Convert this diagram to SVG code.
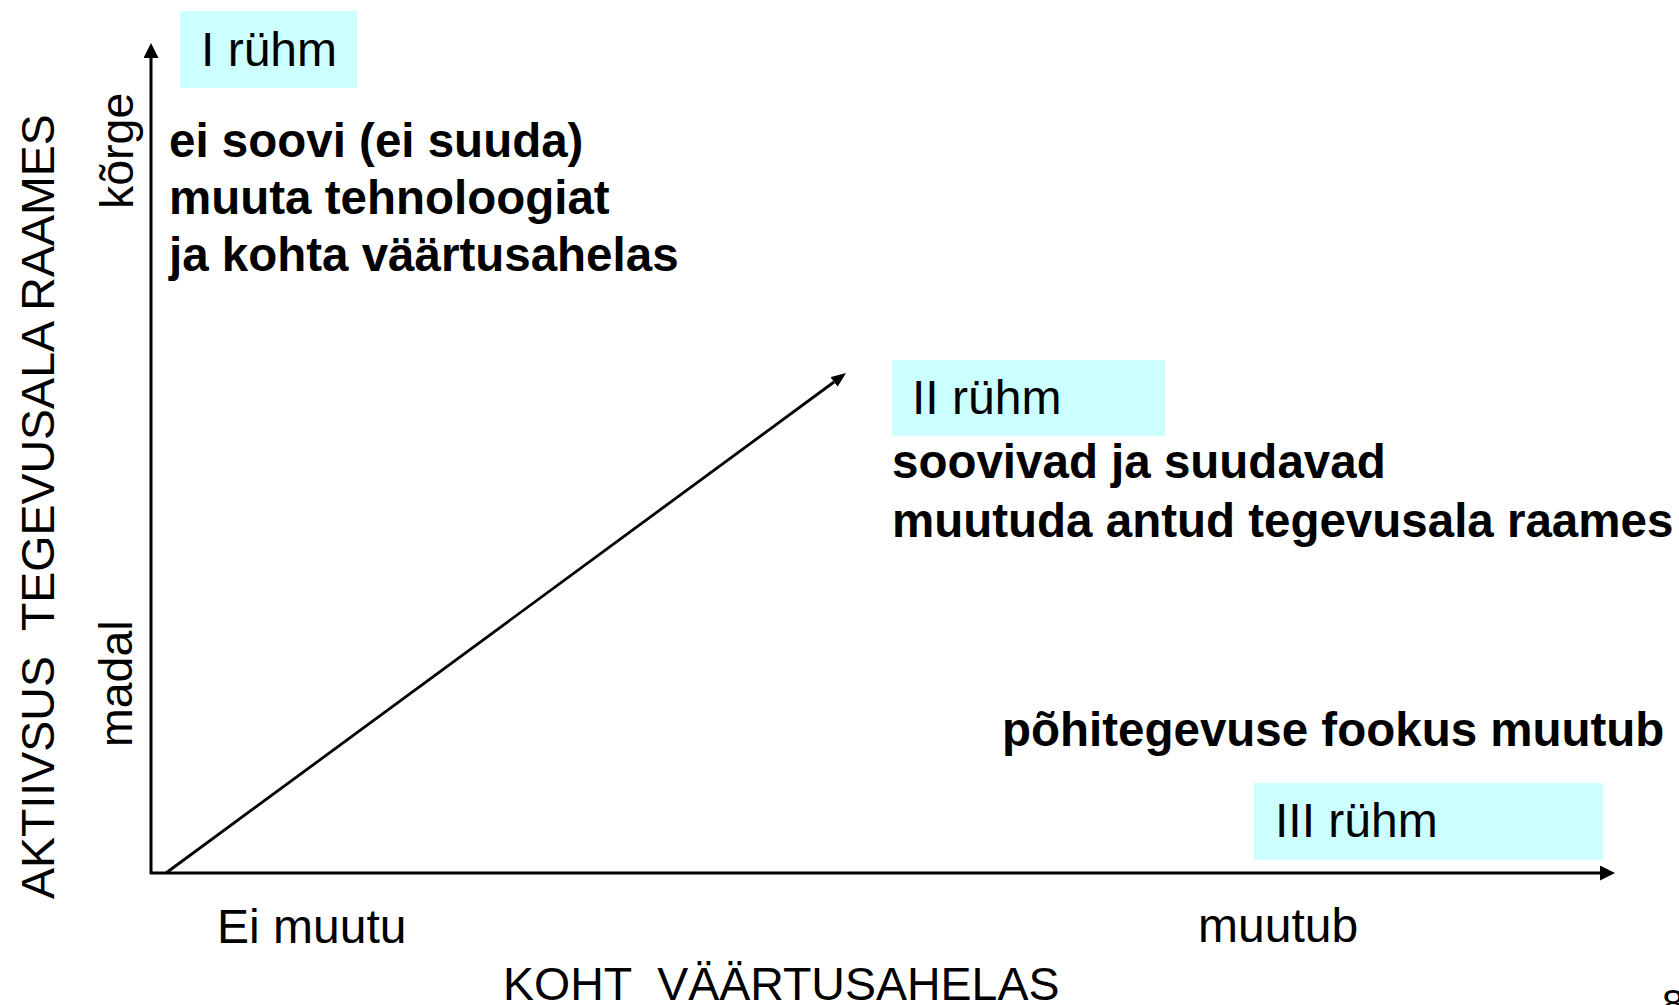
<svg xmlns="http://www.w3.org/2000/svg" width="1679" height="1005" viewBox="0 0 1679 1005">
<style>
text{font-family:"Liberation Sans",Arial,sans-serif;fill:#000}
.n{font-size:48px}
.b{font-size:47.5px;font-weight:bold}
.ax{font-size:46.5px}
.box{fill:#CCFFFF}
.ln{stroke:#000;fill:none}
</style>
<defs>
<marker id="ah" markerUnits="userSpaceOnUse" viewBox="0 0 15 15" refX="0" refY="7.5" markerWidth="15" markerHeight="15" orient="auto">
<path d="M0,0 L15,7.5 L0,15 z" fill="#000"/>
</marker>
<marker id="ah2" markerUnits="userSpaceOnUse" viewBox="0 0 15 12" refX="0" refY="6" markerWidth="15" markerHeight="12" orient="auto">
<path d="M0,0 L15,6 L0,12 z" fill="#000"/>
</marker>
</defs>
<rect width="1679" height="1005" fill="#fff"/>
<g id="connectors">
<line class="ln" x1="151" y1="874" x2="151" y2="58" stroke-width="3" marker-end="url(#ah)"/>
<line class="ln" x1="150" y1="873" x2="1600" y2="873" stroke-width="3" marker-end="url(#ah)"/>
<line class="ln" x1="166" y1="873" x2="834" y2="382" stroke-width="2.8" marker-end="url(#ah2)"/>
</g>
<g id="axis-labels">
<text class="ax" transform="translate(54,899) rotate(-90)" xml:space="preserve">AKTIIVSUS  TEGEVUSALA RAAMES</text>
<text class="ax" transform="translate(133,209) rotate(-90)">kõrge</text>
<text class="ax" transform="translate(132,747) rotate(-90)">madal</text>
<text class="n" x="217" y="943">Ei muutu</text>
<text class="n" x="1198" y="942">muutub</text>
<text class="ax" x="503" y="1000" xml:space="preserve">KOHT  VÄÄRTUSAHELAS</text>
<text style="font-size:40px" x="1662" y="1018">8</text>
</g>
<g id="group1">
<rect class="box" x="180" y="11" width="177" height="77"/>
<text class="n" x="201" y="66">I rühm</text>
<text class="b" x="169" y="157">ei soovi (ei suuda)</text>
<text class="b" x="169" y="214">muuta tehnoloogiat</text>
<text class="b" x="169" y="271">ja kohta väärtusahelas</text>
</g>
<g id="group2">
<rect class="box" x="892" y="360" width="273" height="76"/>
<text class="n" x="912" y="414">II rühm</text>
<text class="b" x="892" y="478">soovivad ja suudavad</text>
<text class="b" x="892" y="537">muutuda antud tegevusala raames</text>
</g>
<g id="group3">
<text class="b" x="1002" y="746">põhitegevuse fookus muutub</text>
<rect class="box" x="1254" y="783" width="349" height="77"/>
<text class="n" x="1275" y="837">III rühm</text>
</g>
</svg>
